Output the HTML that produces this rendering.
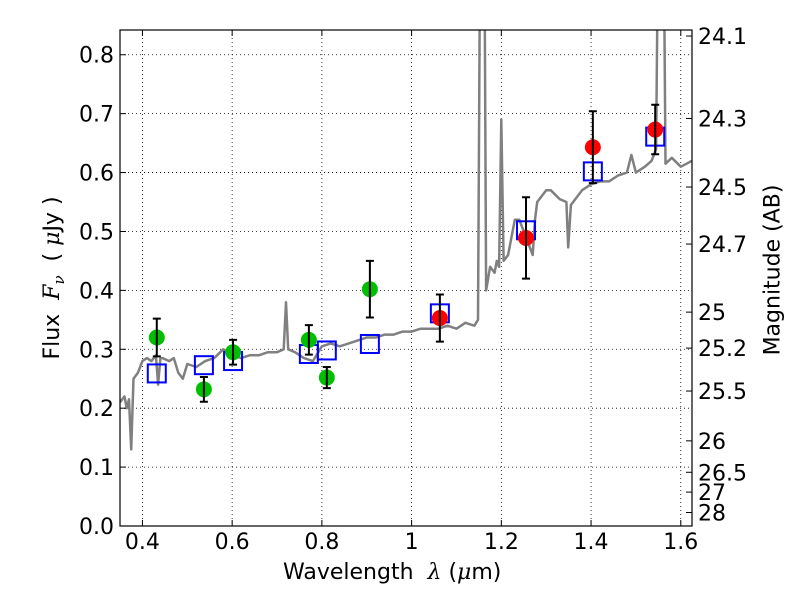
<!DOCTYPE html>
<html><head><meta charset="utf-8"><style>
body{margin:0;background:#fff}
svg{display:block;font-family:"DejaVu Sans","Liberation Sans",sans-serif}
</style></head><body>
<svg id="chart" width="800" height="600">
<g id="grid"></g>
<g id="spec"></g>
<g id="marks"></g>
<g id="axes"></g>
</svg>
<script>
const specWave=[0.35,0.36,0.365,0.37,0.375,0.38,0.39,0.40,0.41,0.42,0.43,0.435,0.44,0.445,0.46,0.47,0.48,0.49,0.50,0.52,0.54,0.56,0.58,0.60,0.62,0.64,0.66,0.68,0.70,0.715,0.72,0.725,0.74,0.76,0.78,0.80,0.82,0.84,0.86,0.88,0.90,0.92,0.94,0.96,0.98,1.0,1.02,1.04,1.06,1.08,1.10,1.12,1.14,1.148,1.152,1.163,1.166,1.175,1.185,1.19,1.195,1.2,1.205,1.215,1.23,1.24,1.25,1.26,1.27,1.275,1.28,1.30,1.31,1.33,1.345,1.349,1.355,1.37,1.38,1.40,1.42,1.44,1.46,1.48,1.49,1.50,1.52,1.535,1.545,1.548,1.563,1.566,1.58,1.60,1.625];
const specFlux=[0.21,0.22,0.2,0.215,0.13,0.25,0.26,0.28,0.285,0.28,0.29,0.24,0.285,0.285,0.28,0.285,0.26,0.25,0.275,0.27,0.28,0.285,0.30,0.29,0.285,0.29,0.29,0.295,0.295,0.30,0.38,0.30,0.295,0.285,0.28,0.305,0.31,0.305,0.31,0.315,0.32,0.32,0.325,0.325,0.33,0.33,0.335,0.335,0.335,0.34,0.335,0.345,0.34,0.35,0.9,0.9,0.40,0.44,0.43,0.45,0.44,0.69,0.45,0.46,0.52,0.52,0.50,0.48,0.46,0.52,0.55,0.57,0.57,0.555,0.55,0.473,0.545,0.56,0.57,0.58,0.585,0.585,0.595,0.60,0.63,0.60,0.61,0.62,0.64,0.9,0.9,0.615,0.625,0.61,0.62];
const greenWave=[0.432,0.537,0.602,0.771,0.811,0.907];
const greenFlux=[0.320,0.232,0.295,0.316,0.252,0.402];
const greenErr=[0.032,0.021,0.021,0.025,0.018,0.048];
const redWave=[1.063,1.255,1.404,1.543];
const redFlux=[0.353,0.489,0.643,0.673];
const redErr=[0.040,0.069,0.061,0.042];
const modelWave=[0.432,0.537,0.602,0.771,0.811,0.907,1.063,1.255,1.404,1.543];
const modelFlux=[0.259,0.273,0.280,0.292,0.298,0.309,0.361,0.502,0.602,0.661];
const xTicks=[0.4,0.6,0.8,1.0,1.2,1.4,1.6];
const xTickLabels=["0.4","0.6","0.8","1","1.2","1.4","1.6"];
const yTicks=[0,0.1,0.2,0.3,0.4,0.5,0.6,0.7,0.8];
const magTicks=[24.1,24.3,24.5,24.7,25,25.2,25.5,26,26.5,27,28];

const L=120,R=692,T=30,B=526,X0=0.35,X1=1.625,Y0=0,Y1=0.842;
const sx=v=>L+(v-X0)/(X1-X0)*(R-L);
const sy=v=>B-(v-Y0)/(Y1-Y0)*(B-T);
const NS="http://www.w3.org/2000/svg";
function mk(tag,attrs,parent,text){const e=document.createElementNS(NS,tag);for(const k in attrs)e.setAttribute(k,attrs[k]);if(text!==undefined)e.textContent=text;parent.appendChild(e);return e;}
const grid=document.getElementById('grid'),spec=document.getElementById('spec'),marks=document.getElementById('marks'),axes=document.getElementById('axes');
xTicks.forEach(v=>{const g=mk('line',{x1:sx(v),x2:sx(v),y1:T,y2:B,stroke:'#000','stroke-width':0.8,'stroke-dasharray':'1,3'},grid);
});
yTicks.forEach(v=>{const g=mk('line',{x1:L,x2:R,y1:sy(v),y2:sy(v),stroke:'#000','stroke-width':0.8,'stroke-dasharray':'1,3'},grid);
});
const defs=mk('defs',{},document.getElementById('chart'));
const cp=mk('clipPath',{id:'clip'},defs);mk('rect',{x:L,y:T,width:R-L,height:B-T},cp);
const pts=specWave.map((w,i)=>sx(w).toFixed(1)+','+sy(specFlux[i]).toFixed(1)).join(' ');
const sl=mk('polyline',{points:pts,fill:'none',stroke:'#808080','stroke-width':2.5,'clip-path':'url(#clip)','stroke-linejoin':'round'},spec);

modelWave.forEach((w,i)=>{const r=mk('rect',{x:sx(w)-9,y:sy(modelFlux[i])-9,width:18,height:18,fill:'none',stroke:'#0000ff','stroke-width':2},marks);
});
function pts2(ws,fs,es,col,name){ws.forEach((w,i)=>{const x=sx(w),y1=sy(fs[i]+es[i]),y2=sy(fs[i]-es[i]);
const c=mk('circle',{cx:x,cy:sy(fs[i]),r:8,fill:col},marks);

const e=mk('path',{d:`M${x},${y1}V${y2}M${x-4},${y1}H${x+4}M${x-4},${y2}H${x+4}`,stroke:'#000','stroke-width':2,fill:'none'},marks);
});}
pts2(greenWave,greenFlux,greenErr,'#00bf00','green-point');
pts2(redWave,redFlux,redErr,'#ff0000','red-point');
const fr=mk('rect',{x:L,y:T,width:R-L,height:B-T,fill:'none',stroke:'#000','stroke-width':1.2},axes);

xTicks.forEach((v,i)=>{mk('line',{x1:sx(v),x2:sx(v),y1:B,y2:B-6,stroke:'#000'},axes);mk('line',{x1:sx(v),x2:sx(v),y1:T,y2:T+6,stroke:'#000'},axes);
const t=mk('text',{x:sx(v),y:B+23,'font-size':22,'text-anchor':'middle'},axes,xTickLabels[i]);
});
yTicks.forEach(v=>{mk('line',{x1:L,x2:L+6,y1:sy(v),y2:sy(v),stroke:'#000'},axes);
const t=mk('text',{x:L-6,y:sy(v)+8,'font-size':22,'text-anchor':'end'},axes,v.toFixed(1));
});
magTicks.forEach(m=>{const f=Math.pow(10,(23.9-m)/2.5),y=sy(f);mk('line',{x1:R,x2:R-6,y1:y,y2:y,stroke:'#000'},axes);
const t=mk('text',{x:R+6,y:y+8,'font-size':22},axes,String(m));
});
</script>
<div style="position:absolute;left:0;top:0;width:800px;height:600px;pointer-events:none">
<div style="position:absolute;left:283px;top:560px;font:22px 'DejaVu Sans',sans-serif">Wavelength&nbsp; <i style="font-family:'DejaVu Serif',serif">λ</i> (<i style="font-family:'DejaVu Serif',serif">μ</i>m)</div>
<div style="position:absolute;left:54px;top:278px;transform:translate(-50%,-50%) rotate(-90deg);white-space:nowrap;font:22px 'DejaVu Sans',sans-serif">Flux&nbsp; <i style="font-family:'DejaVu Serif',serif">F<sub style="font-size:15px">ν</sub></i>&nbsp; ( <i style="font-family:'DejaVu Serif',serif">μ</i>Jy )</div>
<div style="position:absolute;left:773px;top:270px;transform:translate(-50%,-50%) rotate(-90deg);white-space:nowrap;font:22px 'DejaVu Sans',sans-serif">Magnitude (AB)</div>
</div>
</body></html>
